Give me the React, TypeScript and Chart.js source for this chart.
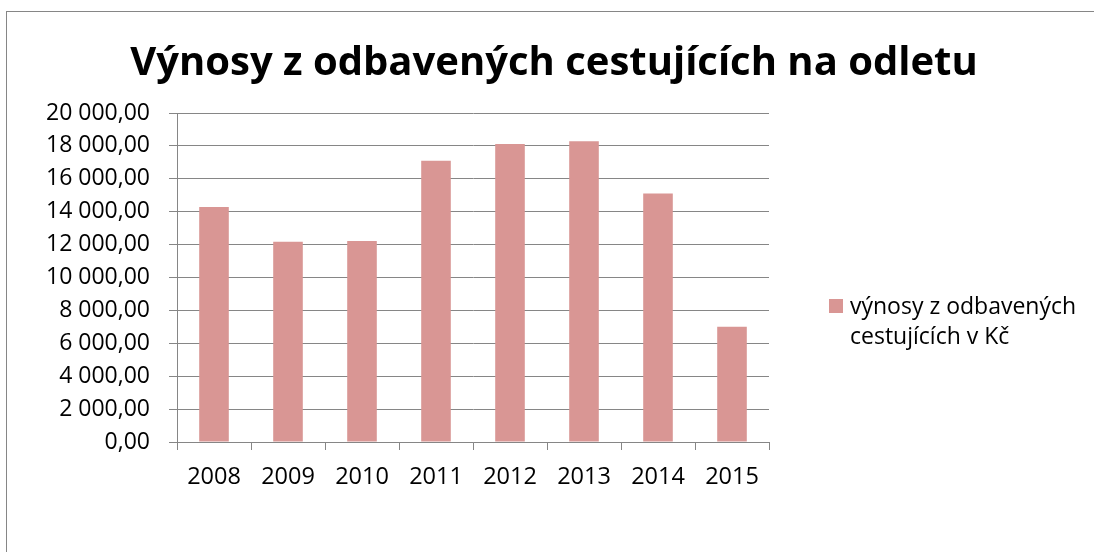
import React, { useEffect, useRef } from "react";
import { Chart, registerables } from "chart.js";

Chart.register(...registerables);

const title = "Výnosy z odbavených cestujících na odletu";
const categories = ["2008", "2009", "2010", "2011", "2012", "2013", "2014", "2015"];
const seriesLabel = ["výnosy z odbavených", "cestujících v Kč"];
const values = [14280, 12180, 12220, 17090, 18110, 18290, 15100, 7000];
const yMin = 0;
const yMax = 20000;
const yStep = 2000;

const BAR = "#D99694";
const GRID = "#868686";
const FONT = '"Open Sans", "Noto Sans", sans-serif';

function fmt(v: number): string {
  const fixed = v.toFixed(2);
  const [ip, dp] = fixed.split(".");
  const withSp = ip.replace(/\B(?=(\d{3})+(?!\d))/g, " ");
  return withSp + "," + dp;
}

const decor = {
  id: "decor",
  afterDraw(chart: any) {
    const ctx = chart.ctx as CanvasRenderingContext2D;
    ctx.save();
    // outer frame
    ctx.strokeStyle = GRID;
    ctx.lineWidth = 1;
    ctx.strokeRect(6.5, 11.5, 1200, 700);
    // title
    ctx.fillStyle = "#000";
    ctx.font = "bold 40px " + FONT;
    ctx.textAlign = "center";
    ctx.textBaseline = "alphabetic";
    ctx.fillText(title, 554, 75);
    // legend
    ctx.fillStyle = BAR;
    ctx.fillRect(829, 299, 14, 14);
    ctx.fillStyle = "#000";
    ctx.font = "23px " + FONT;
    ctx.textAlign = "left";
    ctx.fillText(seriesLabel[0], 850, 314);
    ctx.fillText(seriesLabel[1], 850, 344);
    ctx.restore();
  },
};

export default function App() {
  const ref = useRef<HTMLCanvasElement | null>(null);
  useEffect(() => {
    document.body.style.margin = "0";
    const chart = new Chart(ref.current!, {
      type: "bar",
      data: {
        labels: categories,
        datasets: [
          {
            label: seriesLabel.join(" "),
            data: values,
            backgroundColor: BAR,
            borderWidth: 0,
            categoryPercentage: 1,
            barPercentage: 0.4,
          },
        ],
      },
      options: {
        responsive: false,
        animation: false,
        layout: { padding: { left: 0, right: 325, top: 113, bottom: 0 } },
        plugins: {
          legend: { display: false },
          title: { display: false },
          tooltip: { enabled: false },
        },
        scales: {
          x: {
            afterFit: (s: any) => {
              s.height = 110;
            },
            grid: {
              offset: true,
              drawOnChartArea: false,
              drawTicks: true,
              tickLength: 8,
              color: GRID,
            },
            border: { display: true, color: GRID, width: 1 },
            ticks: {
              color: "#000",
              font: { family: FONT, size: 23.5 },
              padding: 13,
            },
          },
          y: {
            min: yMin,
            max: yMax,
            afterFit: (s: any) => {
              s.width = 177;
            },
            grid: {
              color: GRID,
              tickLength: 8,
              drawTicks: true,
            },
            border: { display: true, color: GRID, width: 1 },
            ticks: {
              stepSize: yStep,
              color: "#000",
              font: { family: FONT, size: 23 },
              padding: 19,
              callback: (v: any) => fmt(Number(v)),
            },
          },
        },
      },
      plugins: [decor],
    });
    return () => chart.destroy();
  }, []);
  return (
    <div style={{ width: 1094, height: 552 }}>
      <canvas ref={ref} width={1094} height={552} />
    </div>
  );
}
